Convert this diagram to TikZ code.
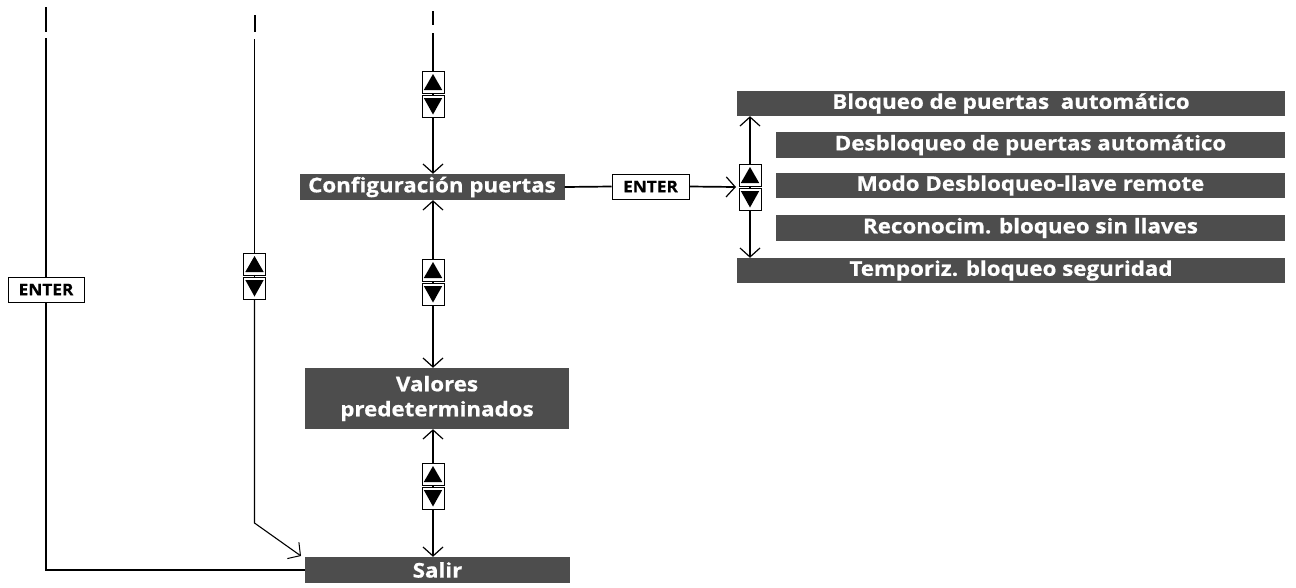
\documentclass[tikz,border=0pt]{standalone}
\usepackage{fontspec}
\setmainfont{Open Sans}
\newfontfamily\boxfont{Open Sans}[FakeStretch=1.1,BoldFeatures={FakeBold=0.7}]
\newfontfamily\entfont{Open Sans}[FakeStretch=1.08,BoldFeatures={FakeBold=0.5}]
\usetikzlibrary{arrows.meta,calc}
\definecolor{boxgray}{HTML}{4D4D4D}
\begin{document}
\begin{tikzpicture}[x=1pt,y=-1pt,
  gbox/.style={fill=boxgray,text=white,font=\boxfont\bfseries\fontsize{20.3}{25}\selectfont,inner sep=0pt,align=center},
  enterbox/.style={draw=black,line width=1pt,fill=white,font=\entfont\bfseries\fontsize{16}{16}\selectfont,inner sep=0pt,minimum width=76pt,minimum height=25pt},
  btnup/.style={draw=black,line width=0.9pt,fill=white,minimum width=22pt,minimum height=22pt,inner sep=0pt,
    path picture={\fill[black] ($(path picture bounding box.south west)+(1.8pt,3pt)$) -- ($(path picture bounding box.south east)+(-1.8pt,3pt)$) -- ($(path picture bounding box.north)+(0pt,-3pt)$) -- cycle;}},
  btndn/.style={draw=black,line width=0.9pt,fill=white,minimum width=22pt,minimum height=22pt,inner sep=0pt,
    path picture={\fill[black] ($(path picture bounding box.north west)+(1.8pt,-3pt)$) -- ($(path picture bounding box.north east)+(-1.8pt,-3pt)$) -- ($(path picture bounding box.south)+(0pt,2.5pt)$) -- cycle;}},
  mainline/.style={line width=1.7pt},
  thinline/.style={line width=1.1pt},
  arr/.style={-{Straight Barb[length=9pt,width=20pt,line width=1.2pt]}},
  tick/.style={line width=2pt}
]
\useasboundingbox (0,0) rectangle (1296,587);

% grey boxes
\node[gbox,minimum width=265pt,minimum height=26pt] (cfg) at (432,187) {Configuración puertas};
\node[gbox,minimum width=264pt,minimum height=61pt] (val) at (437,398.5) {Valores\\predeterminados};
\node[gbox,minimum width=265pt,minimum height=26pt] (salir) at (437.5,570) {Salir};
\node[gbox,minimum width=548pt,minimum height=25pt] (r1) at (1011,103.5) {Bloqueo de puertas\ \ automático};
\node[gbox,minimum width=509pt,minimum height=26pt] (r2) at (1030.5,145) {Desbloqueo de puertas automático};
\node[gbox,minimum width=509pt,minimum height=25pt] (r3) at (1030.5,185.5) {Modo Desbloqueo-llave remote};
\node[gbox,minimum width=509pt,minimum height=26pt] (r4) at (1030.5,228) {Reconocim. bloqueo sin llaves};
\node[gbox,minimum width=548pt,minimum height=25pt] (r5) at (1011,270.5) {Temporiz. bloqueo seguridad};

% ENTER boxes
\node[enterbox,minimum width=77pt] (ent1) at (650.5,186.5) {ENTER};
\node[enterbox] (ent2) at (46,289.5) {ENTER};

% up/down buttons
\node[btnup] (upC1) at (433,82) {};
\node[btndn] (dnC1) at (433,106) {};
\node[btnup] (upC2) at (433,270) {};
\node[btndn] (dnC2) at (433,294) {};
\node[btnup] (upC3) at (433,474) {};
\node[btndn] (dnC3) at (433,498) {};
\node[btnup] (upL) at (254.5,264) {};
\node[btndn] (dnL) at (254.5,288) {};
\node[btnup] (upR) at (750,175) {};
\node[btndn] (dnR) at (750,199) {};

% coordinates
\coordinate (Lt1) at (46,7);
\coordinate (Lt2) at (46,32);
\coordinate (Ls) at (46,38);
\coordinate (Mt1) at (255,15);
\coordinate (Mt2) at (255,32);
\coordinate (Ms) at (254.5,39);
\coordinate (Mb) at (254.5,523);
\coordinate (Me) at (301,556);
\coordinate (Ct1) at (433,11);
\coordinate (Ct2) at (433,25);
\coordinate (Cs) at (433,33);
\coordinate (gapR) at (736,187);

% left column
\draw[tick] (Lt1) -- (Lt2);
\draw[mainline] (Ls) -- (ent2.north);
\draw[mainline] (ent2.south) |- (salir.west);

% middle-left column
\draw[tick] (Mt1) -- (Mt2);
\draw[thinline] (Ms) -- (upL.north);
\draw[thinline] (upL.south) -- (dnL.north);
\draw[thinline,-{Straight Barb[length=9pt,width=20pt,line width=1pt]}] (dnL.south) -- (Mb) -- (Me);

% center column
\draw[tick] (Ct1) -- (Ct2);
\draw[mainline] (Cs) -- (upC1.north);
\draw[mainline] (upC1.south) -- (dnC1.north);
\draw[mainline,arr] (dnC1.south) -- (dnC1.south |- cfg.north);
\draw[mainline,arr] (upC2.north) -- (upC2.north |- cfg.south);
\draw[mainline] (upC2.south) -- (dnC2.north);
\draw[mainline,arr] (dnC2.south) -- (dnC2.south |- val.north);
\draw[mainline,arr] (upC3.north) -- (upC3.north |- val.south);
\draw[mainline] (upC3.south) -- (dnC3.north);
\draw[mainline,arr] (dnC3.south) -- (dnC3.south |- salir.north);

% right branch
\draw[mainline] (cfg.east) -- (ent1.west);
\draw[mainline,arr] (ent1.east) -- (gapR);
\draw[mainline] (upR.south) -- (dnR.north);
\draw[mainline,arr] (upR.north) -- (upR.north |- r1.south);
\draw[mainline,arr] (dnR.south) -- (dnR.south |- r5.north);
\end{tikzpicture}
\end{document}
